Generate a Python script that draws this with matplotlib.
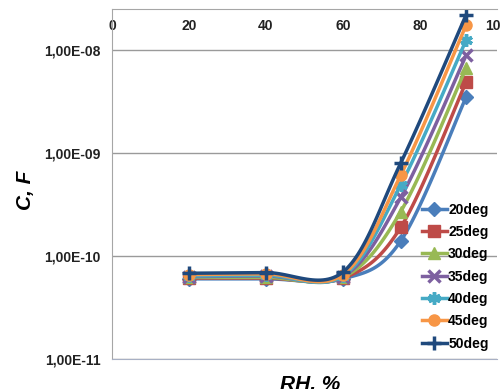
import numpy as np
import matplotlib.pyplot as plt
from matplotlib.ticker import FixedLocator, NullLocator

plt.switch_backend('Agg')

rh = [20, 40, 60, 75, 92]
labels = ['20deg', '25deg', '30deg', '35deg', '40deg', '45deg', '50deg']
c20 = [6.0e-11, 6.0e-11, 6.0e-11, 1.4e-10, 3.5e-9]
c25 = [6.1e-11, 6.1e-11, 6.1e-11, 1.9e-10, 4.9e-9]
c30 = [6.2e-11, 6.2e-11, 6.2e-11, 2.7e-10, 6.7e-9]
c35 = [6.3e-11, 6.4e-11, 6.3e-11, 3.7e-10, 8.9e-9]
c40 = [6.4e-11, 6.5e-11, 6.4e-11, 4.9e-10, 1.25e-8]
c45 = [6.6e-11, 6.7e-11, 6.6e-11, 6.1e-10, 1.75e-8]
c50 = [6.8e-11, 6.9e-11, 7.0e-11, 8.0e-10, 2.2e-8]
series = [c20, c25, c30, c35, c40, c45, c50]

xticks = [0, 20, 40, 60, 80, 100]
yticks = [1e-11, 1e-10, 1e-9, 1e-8]
ytick_labels = ['1,00E-11', '1,00E-10', '1,00E-09', '1,00E-08']

colors = ['#4A7EBB', '#BE4B48', '#98B954', '#7D60A0', '#46AAC5', '#F79646', '#1F497D']
markers = ['D', 's', '^', 'x', (6, 2, 0), 'o', '+']
msizes = [7, 8, 8, 8, 9, 8, 10]


def smooth(x, y, n=30):
    # excel-like smoothed line, done in (x, log y) space
    p = np.column_stack([x, np.log10(y)])
    p = np.vstack([p[0], p, p[-1]])
    out = []
    t = np.linspace(0, 1, n)[:, None]
    for i in range(1, len(p) - 2):
        b0 = p[i]
        b3 = p[i + 1]
        b1 = b0 + (p[i + 1] - p[i - 1]) / 6
        b2 = b3 - (p[i + 2] - p[i]) / 6
        seg = ((1 - t) ** 3) * b0 + 3 * ((1 - t) ** 2) * t * b1 \
            + 3 * (1 - t) * t ** 2 * b2 + t ** 3 * b3
        out.append(seg)
    out = np.vstack(out)
    return out[:, 0], 10 ** out[:, 1]


plt.rcParams['font.family'] = ['Liberation Sans', 'DejaVu Sans']

fig = plt.figure(figsize=(5, 3.89), dpi=100)
ax = fig.add_axes([0.224, 0.0771, 0.77, 0.8998])

for vals, lab, col, mk, ms in zip(series, labels, colors, markers, msizes):
    sx, sy = smooth(rh, vals)
    ax.plot(sx, sy, color=col, lw=2.5, solid_capstyle='round')
    ax.plot(rh, vals, ls='none', marker=mk, ms=ms, color=col,
            mec=col, mew=2.5 if mk in ('x', '+', (6, 2, 0)) else 1)
    ax.plot([], [], color=col, lw=2.5, marker=mk, ms=ms, mec=col,
            mew=2.5 if mk in ('x', '+', (6, 2, 0)) else 1, label=lab)

ax.set_yscale('log')
ax.set_xlim(0, 100)
ax.set_ylim(1e-11, 2.5e-8)

ax.xaxis.set_major_locator(FixedLocator(xticks))
ax.xaxis.set_minor_locator(NullLocator())
ax.yaxis.set_major_locator(FixedLocator(yticks))
ax.yaxis.set_minor_locator(NullLocator())
ax.set_yticklabels(ytick_labels)
ax.xaxis.tick_top()
ax.tick_params(axis='x', length=0, pad=-17, labelsize=10)
ax.tick_params(axis='y', length=0, pad=8, labelsize=10)
for t in ax.get_xticklabels() + ax.get_yticklabels():
    t.set_fontweight('bold')
    t.set_color('#222222')

ax.grid(axis='y', color='#9a9a9a', lw=1)
ax.set_axisbelow(True)
ax.spines['right'].set_visible(False)
ax.spines['left'].set_color('#a6a6a6')
ax.spines['top'].set_color('#a6a6a6')
ax.spines['bottom'].set_color('#a8b0c4')

fig.text(0.05, 0.51, 'C, F', rotation=90, ha='center', va='center',
         fontsize=15, fontweight='bold', fontstyle='italic')
fig.text(0.62, 0.012, 'RH, %', ha='center', va='center',
         fontsize=15, fontweight='bold', fontstyle='italic')

leg = ax.legend(loc='lower right', bbox_to_anchor=(1.0, 0.0), frameon=False,
                handlelength=1.8, handletextpad=0.1, labelspacing=0.6,
                borderaxespad=0.2, prop={'weight': 'bold', 'size': 10})

fig.savefig('out.png', dpi=100)
